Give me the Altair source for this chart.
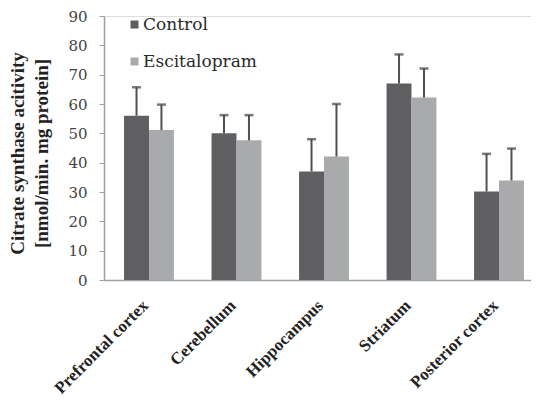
import altair as alt
import pandas as pd

regions = ["Prefrontal cortex", "Cerebellum", "Hippocampus", "Striatum", "Posterior cortex"]
groups = ["Control", "Escitalopram"]
control_mean = [56.0, 50.0, 37.0, 67.0, 30.2]
control_sd = [9.7, 6.2, 11.0, 9.9, 12.8]
escit_mean = [51.1, 47.6, 42.1, 62.2, 33.9]
escit_sd = [8.7, 8.6, 17.9, 9.9, 10.9]
y_ticks = [0, 10, 20, 30, 40, 50, 60, 70, 80, 90]
colors = ["#5f5f61", "#a9aaac"]

rows = []
for i, r in enumerate(regions):
    rows.append(dict(region=r, group=groups[0], mean=control_mean[i], sd=control_sd[i]))
    rows.append(dict(region=r, group=groups[1], mean=escit_mean[i], sd=escit_sd[i]))
df = pd.DataFrame(rows)

x_axis = alt.Axis(
    title=None, labelAngle=-45, labelAlign="right", labelBaseline="top",
    labelFont="Liberation Serif", labelFontWeight="bold", labelFontSize=17,
    labelColor="#222222", ticks=False, labelPadding=17, labelOffset=-9,
    domainColor="#a0a0a0", domainWidth=1.5,
)
x_enc = alt.X(
    "region:N",
    sort=regions,
    scale=alt.Scale(range=[0, 440], paddingInner=0.43, paddingOuter=0.229),
    axis=x_axis,
)
xoff = alt.XOffset("group:N", sort=groups, scale=alt.Scale(paddingInner=0, paddingOuter=0))

y_axis = alt.Axis(
    values=y_ticks, grid=False,
    title=["Citrate synthase acitivity", "[nmol/min. mg protein]"],
    titleFont="Liberation Serif", titleFontSize=19, titleFontWeight="bold",
    titleColor="#222222", titleX=-96, titleY=137, titleAngle=-90,
    titleAlign="center", titleBaseline="top", titleLineHeight=24,
    labelFont="DejaVu Serif", labelFontSize=15, labelColor="#444444",
    labelPadding=12, tickSize=5, tickColor="#a0a0a0",
    domainColor="#a0a0a0", domainWidth=1.5,
)
y_scale = alt.Scale(domain=[0, 90], nice=False)

base = alt.Chart(df).transform_calculate(upper="datum.mean + datum.sd")

bars = base.mark_bar().encode(
    x=x_enc,
    xOffset=xoff,
    y=alt.Y("mean:Q", scale=y_scale, axis=y_axis),
    color=alt.Color(
        "group:N",
        sort=groups,
        scale=alt.Scale(domain=groups, range=colors),
        legend=alt.Legend(
            orient="none", legendX=22, legendY=0, title=None,
            labelFont="DejaVu Serif", labelFontSize=17, labelColor="#2a2a2a",
            symbolType="square", symbolSize=64, symbolStrokeWidth=0,
            rowPadding=19, labelOffset=0, padding=0,
        ),
    ),
)

stems = base.mark_rule(color="#505050", strokeWidth=2).encode(
    x=x_enc,
    xOffset=xoff,
    y=alt.Y("mean:Q", scale=y_scale, axis=y_axis),
    y2="upper:Q",
)

caps = base.mark_tick(color="#404040", thickness=2.5, size=9).encode(
    x=x_enc,
    xOffset=xoff,
    y=alt.Y("upper:Q", scale=y_scale, axis=y_axis),
)

chart = alt.layer(bars, stems, caps).properties(
    width=427, height=264,
    autosize=alt.AutoSizeParams(type="none"),
    padding={"left": 96, "top": 8, "right": 0, "bottom": 124},
).configure_view(stroke=None).configure(background="white")

chart.save("out.html", embed_options={"renderer": "svg", "actions": False})
